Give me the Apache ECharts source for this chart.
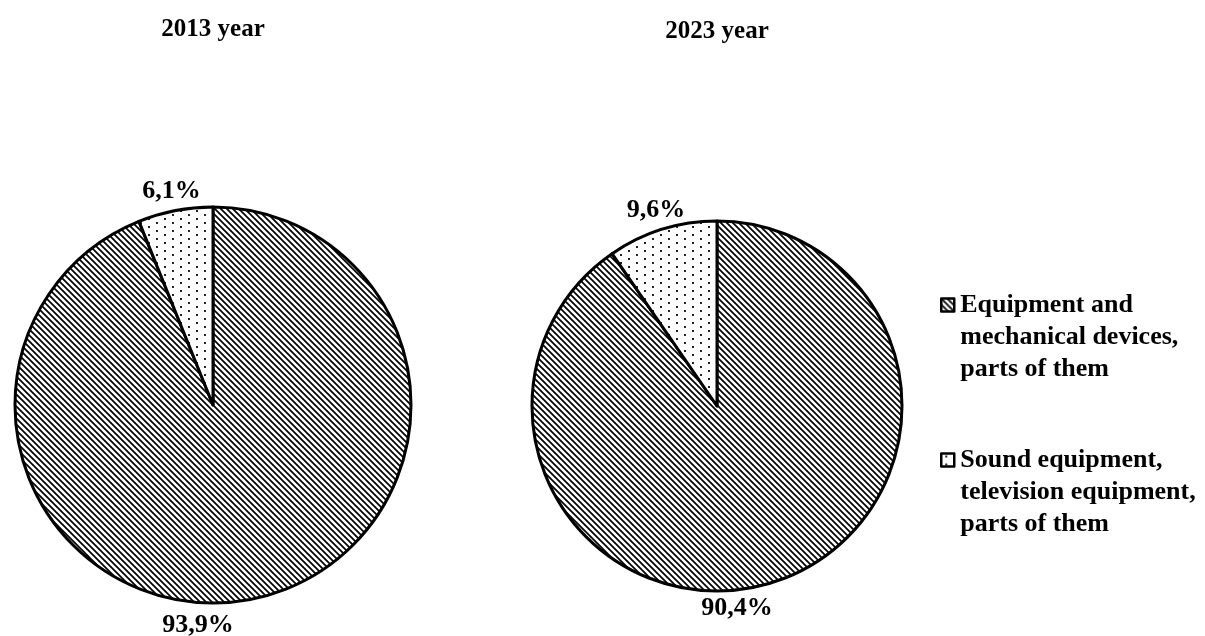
<!DOCTYPE html>
<html><head><meta charset="utf-8">
<script src="https://cdn.jsdelivr.net/npm/echarts@6/dist/echarts.min.js"></script>
<style>html,body{margin:0;padding:0;background:#fff}#c{width:1205px;height:636px}</style>
</head><body><div id="c"></div>
<script>
const categories = ['Equipment and mechanical devices, parts of them', 'Sound equipment, television equipment, parts of them'];
const legendLines = [['Equipment and', 'mechanical devices,', 'parts of them'], ['Sound equipment,', 'television equipment,', 'parts of them']];
const years = ['2013 year', '2023 year'];
const values2013 = [93.9, 6.1];
const values2023 = [90.4, 9.6];

const FONT = '"Liberation Serif", "Times New Roman", serif';

function hatchPattern() {
  const c = document.createElement('canvas'); c.width = 6; c.height = 6;
  const g = c.getContext('2d');
  g.fillStyle = '#fff'; g.fillRect(0, 0, 6, 6);
  g.strokeStyle = '#000'; g.lineWidth = 1.7; g.beginPath();
  for (const o of [-6, 0, 6]) { g.moveTo(o - 1, -1); g.lineTo(o + 7, 7); }
  g.stroke();
  return c;
}
function dotPattern() {
  const c = document.createElement('canvas'); c.width = 16; c.height = 8;
  const g = c.getContext('2d');
  g.fillStyle = '#fff'; g.fillRect(0, 0, 16, 8);
  g.fillStyle = '#222';
  g.fillRect(4, 2, 2, 2); g.fillRect(12, 6, 2, 2);
  return c;
}
const fills = [{ image: hatchPattern(), repeat: 'repeat' }, { image: dotPattern(), repeat: 'repeat' }];

function fmtPct(v) { return v.toFixed(1).replace('.', ',') + '%'; }

// label placement: small slice at its mid-angle, dominant slice below the pie
function labelLayoutFor(values, cx, cy, r, opt) {
  const total = values.reduce((a, b) => a + b, 0);
  return function (p) {
    let before = 0;
    for (let i = 0; i < p.dataIndex; i++) before += values[i];
    const v = values[p.dataIndex];
    const big = v / total > 0.5;
    const ang = big ? -90 : 90 - (before + v / 2) / total * 360;
    const rad = ang * Math.PI / 180;
    const gap = big ? opt.gapBig : opt.gapSmall;
    return {
      x: cx + (r + gap) * Math.cos(rad) + (big ? opt.dxBig : 0),
      y: cy - (r + gap) * Math.sin(rad),
      align: 'center', verticalAlign: 'middle'
    };
  };
}

function pieSeries(values, cx, cy, r, opt) {
  return {
    type: 'pie',
    center: [cx, cy],
    radius: r,
    startAngle: 90,
    clockwise: true,
    avoidLabelOverlap: false,
    silent: true,
    itemStyle: { borderColor: '#000', borderWidth: 3 },
    label: {
      show: true, position: 'outside', formatter: p => fmtPct(p.value),
      fontFamily: FONT, fontWeight: 'bold', fontSize: 26, color: '#000'
    },
    labelLine: { show: false },
    labelLayout: labelLayoutFor(values, cx, cy, r, opt),
    emphasis: { disabled: true },
    data: values.map((v, i) => ({ name: categories[i], value: v, itemStyle: { color: fills[i] } }))
  };
}

function legendFor(i, top) {
  return {
    data: [categories[i]],
    orient: 'vertical',
    left: 935,
    top: top,
    itemWidth: 13, itemHeight: 13,
    icon: 'rect',
    itemStyle: { borderColor: '#000', borderWidth: 2.5 },
    selectedMode: false,
    formatter: () => [' ', ' '].concat(legendLines[i]).join('\n'),
    textStyle: { fontFamily: FONT, fontWeight: 'bold', fontSize: 26, lineHeight: 32, color: '#000', padding: [0, 0, 0, 1] }
  };
}

const titleStyle = { fontFamily: FONT, fontWeight: 'bold', fontSize: 25, color: '#000' };
const chart = echarts.init(document.getElementById('c'), null, { renderer: 'canvas' });
chart.setOption({
  animation: false,
  backgroundColor: '#fff',
  title: [
    { text: years[0], left: 208, top: 12, textAlign: 'center', textStyle: titleStyle },
    { text: years[1], left: 712, top: 14, textAlign: 'center', textStyle: titleStyle }
  ],
  legend: [legendFor(0, 220), legendFor(1, 375)],
  series: [
    pieSeries(values2013, 213, 405, 198, { gapSmall: 20, gapBig: 22, dxBig: -15 }),
    pieSeries(values2023, 717, 406, 185, { gapSmall: 20, gapBig: 17, dxBig: 20 })
  ]
});
</script>
</body></html>
